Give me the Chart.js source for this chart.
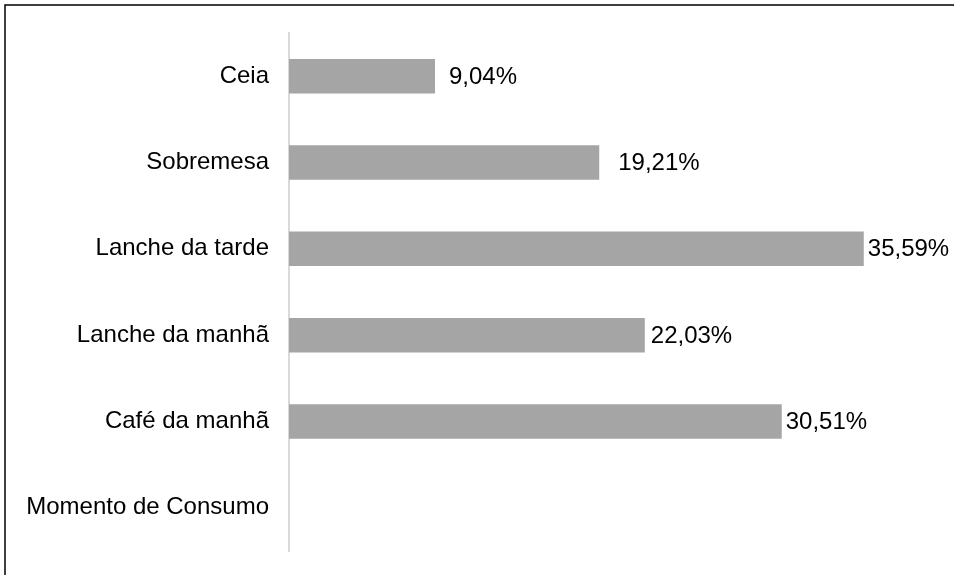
<!DOCTYPE html>
<html>
<head>
<meta charset="utf-8">
<script src="https://cdn.jsdelivr.net/npm/chart.js@4/dist/chart.umd.min.js"></script>
<style>
  html, body { margin: 0; padding: 0; background: #fff; }
  canvas { display: block; }
</style>
</head>
<body>
<canvas id="momentoChart" width="954" height="575"></canvas>
<script>
// momento de consumo (% das respostas)
var categories = ["Ceia", "Sobremesa", "Lanche da tarde", "Lanche da manhã", "Café da manhã", "Momento de Consumo"];
var percentValues = [9.04, 19.21, 35.59, 22.03, 30.51, null];
var axisMax = 40;

// gap between bar end and its value label, per bar
var labelGap = [14, 19, 4, 6, 4];

var FONT = "'Liberation Sans', Arial, sans-serif";

function formatPct(v) {
    return v.toFixed(2).replace(".", ",") + "%";
}

// outer frame (left and top edges only are visible)
var framePlugin = {
    id: "frame",
    beforeDraw: function (chart) {
        var ctx = chart.ctx;
        ctx.save();
        ctx.fillStyle = "#fff";
        ctx.fillRect(0, 0, chart.width, chart.height);
        ctx.strokeStyle = "#000";
        ctx.lineWidth = 1.5;
        ctx.beginPath();
        ctx.moveTo(5, chart.height);
        ctx.lineTo(5, 5);
        ctx.lineTo(chart.width, 5);
        ctx.stroke();
        ctx.restore();
    }
};

// value labels to the right of each bar
var valueLabelPlugin = {
    id: "valueLabels",
    afterDatasetsDraw: function (chart) {
        var ctx = chart.ctx;
        var meta = chart.getDatasetMeta(0);
        ctx.save();
        ctx.font = "24px " + FONT;
        ctx.fillStyle = "#000";
        ctx.textAlign = "left";
        ctx.textBaseline = "middle";
        meta.data.forEach(function (bar, i) {
            var v = percentValues[i];
            if (v === null || v === undefined) return;
            ctx.fillText(formatPct(v), bar.x + (labelGap[i] || 4), bar.y + 1);
        });
        ctx.restore();
    }
};

var ctx = document.getElementById("momentoChart");

var momentoChart = new Chart(ctx, {
    type: "bar",
    data: {
        labels: categories,
        datasets: [{
            data: percentValues,
            backgroundColor: "#a5a5a5",
            borderWidth: 0,
            categoryPercentage: 1,
            barPercentage: 0.4
        }]
    },
    options: {
        indexAxis: "y",
        responsive: false,
        animation: false,
        layout: {
            padding: { top: 33, bottom: 24, right: 19, left: 0 }
        },
        plugins: {
            legend: { display: false },
            tooltip: { enabled: false }
        },
        scales: {
            x: {
                display: false,
                min: 0,
                max: axisMax
            },
            y: {
                position: "left",
                afterFit: function (scale) {
                    scale.width = 289;
                    // labels sit inside their slots, no extra room needed
                    scale.paddingTop = 0;
                    scale.paddingBottom = 0;
                },
                grid: {
                    display: true,
                    drawOnChartArea: false,
                    drawTicks: false,
                    color: "rgba(0,0,0,0)"
                },
                border: {
                    display: true,
                    color: "#d9d9d9",
                    width: 2
                },
                ticks: {
                    padding: 20,
                    color: "#000",
                    font: { family: FONT, size: 24 }
                }
            }
        }
    },
    plugins: [framePlugin, valueLabelPlugin]
});
</script>
</body>
</html>
